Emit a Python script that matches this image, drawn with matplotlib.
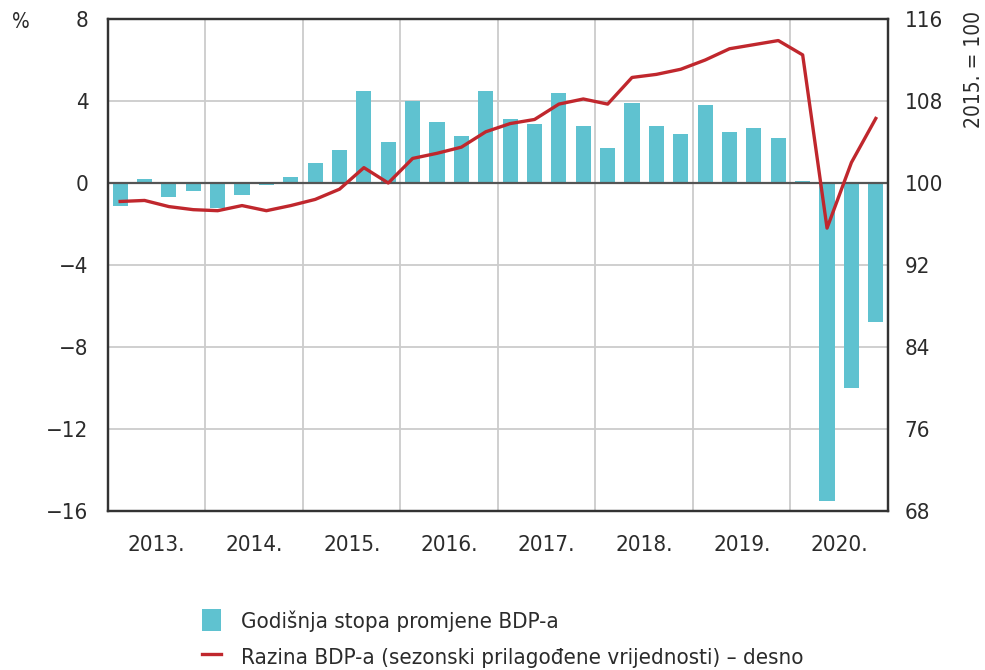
"""GDP: annual growth rate (bars, left) and seasonally adjusted level (line, right)."""

import numpy as np
import matplotlib.pyplot as plt
from matplotlib.patches import Patch
from matplotlib.lines import Line2D

plt.rcParams["font.family"] = ["DejaVu Sans"]
plt.rcParams["font.stretch"] = "condensed"

years = ["2013.", "2014.", "2015.", "2016.", "2017.", "2018.", "2019.", "2020."]

# annual growth rate, % (quarterly, 2013Q1 - 2020Q4)
growth = [-1.1, 0.2, -0.7, -0.4,
          -1.2, -0.6, -0.1, 0.3,
          1.0, 1.6, 4.5, 2.0,
          4.0, 3.0, 2.3, 4.5,
          3.1, 2.9, 4.4, 2.8,
          1.7, 3.9, 2.8, 2.4,
          3.8, 2.5, 2.7, 2.2,
          0.1, -15.5, -10.0, -6.8]

# level, seasonally adjusted, 2015 = 100
level = [98.2, 98.3, 97.7, 97.4,
         97.3, 97.8, 97.3, 97.8,
         98.4, 99.4, 101.5, 100.0,
         102.4, 102.9, 103.5, 105.0,
         105.8, 106.2, 107.7, 108.2,
         107.7, 110.3, 110.6, 111.1,
         112.0, 113.1, 113.5, 113.9,
         112.5, 95.6, 102.0, 106.3]

bar_color = "#5fc2d0"
line_color = "#c0272d"
text_color = "#2b2b2b"

x = np.arange(len(growth))

fig = plt.figure(figsize=(9.85, 6.7), dpi=100)
ax = fig.add_axes([0.1096, 0.2373, 0.7919, 0.7343])
ax2 = ax.twinx()

ax.bar(x, growth, width=0.62, color=bar_color, zorder=2)
ax.axhline(0, color="#555555", lw=1.6, zorder=3)
ax2.plot(x, level, color=line_color, lw=2.4, zorder=4)

ax.set_xlim(-0.5, len(growth) - 0.5)
ax.set_ylim(-16, 8)
ax2.set_ylim(68, 116)
ax.set_yticks(np.arange(-16, 9, 4))
ax.set_yticklabels([str(v).replace("-", "\u2212") for v in range(-16, 9, 4)])
ax2.set_yticks(np.arange(68, 117, 8))

# year gridlines and labels
ax.set_xticks(np.arange(3.5, 31, 4), minor=False)
ax.set_xticklabels([])
ax.set_xticks(np.arange(1.5, 32, 4), minor=True)
ax.set_xticklabels(years, minor=True)
ax.grid(True, which="major", color="#cccccc", lw=1.3, zorder=0)
ax.tick_params(axis="x", which="both", length=0, pad=17, labelsize=16, colors=text_color)
ax.tick_params(axis="y", length=0, pad=14, labelsize=16, colors=text_color)
ax2.tick_params(axis="y", length=0, pad=12, labelsize=16, colors=text_color)
ax.set_axisbelow(True)

for a in (ax, ax2):
    for s in a.spines.values():
        s.set_color("#333333")
        s.set_linewidth(1.6)

ax.set_zorder(ax2.get_zorder() - 1)
ax.patch.set_visible(True)
ax2.patch.set_visible(False)

fig.text(0.012, 0.967, "%", fontsize=15, color=text_color, ha="left", va="center")
fig.text(0.989, 0.897, "2015. = 100", fontsize=15, color=text_color,
         rotation=90, ha="center", va="center")

handles = [Patch(facecolor=bar_color, edgecolor="none"),
           Line2D([0], [0], color=line_color, lw=2.4)]
labels = ["Godišnja stopa promjene BDP-a",
          "Razina BDP-a (sezonski prilagođene vrijednosti) \u2013 desno"]
fig.legend(handles, labels, loc="upper left", bbox_to_anchor=(0.196, 0.104),
           frameon=False, fontsize=16, handlelength=0.85, handleheight=1.15,
           handletextpad=0.9, labelspacing=0.6, borderaxespad=0, labelcolor=text_color)

plt.savefig("out.png", dpi=100)
